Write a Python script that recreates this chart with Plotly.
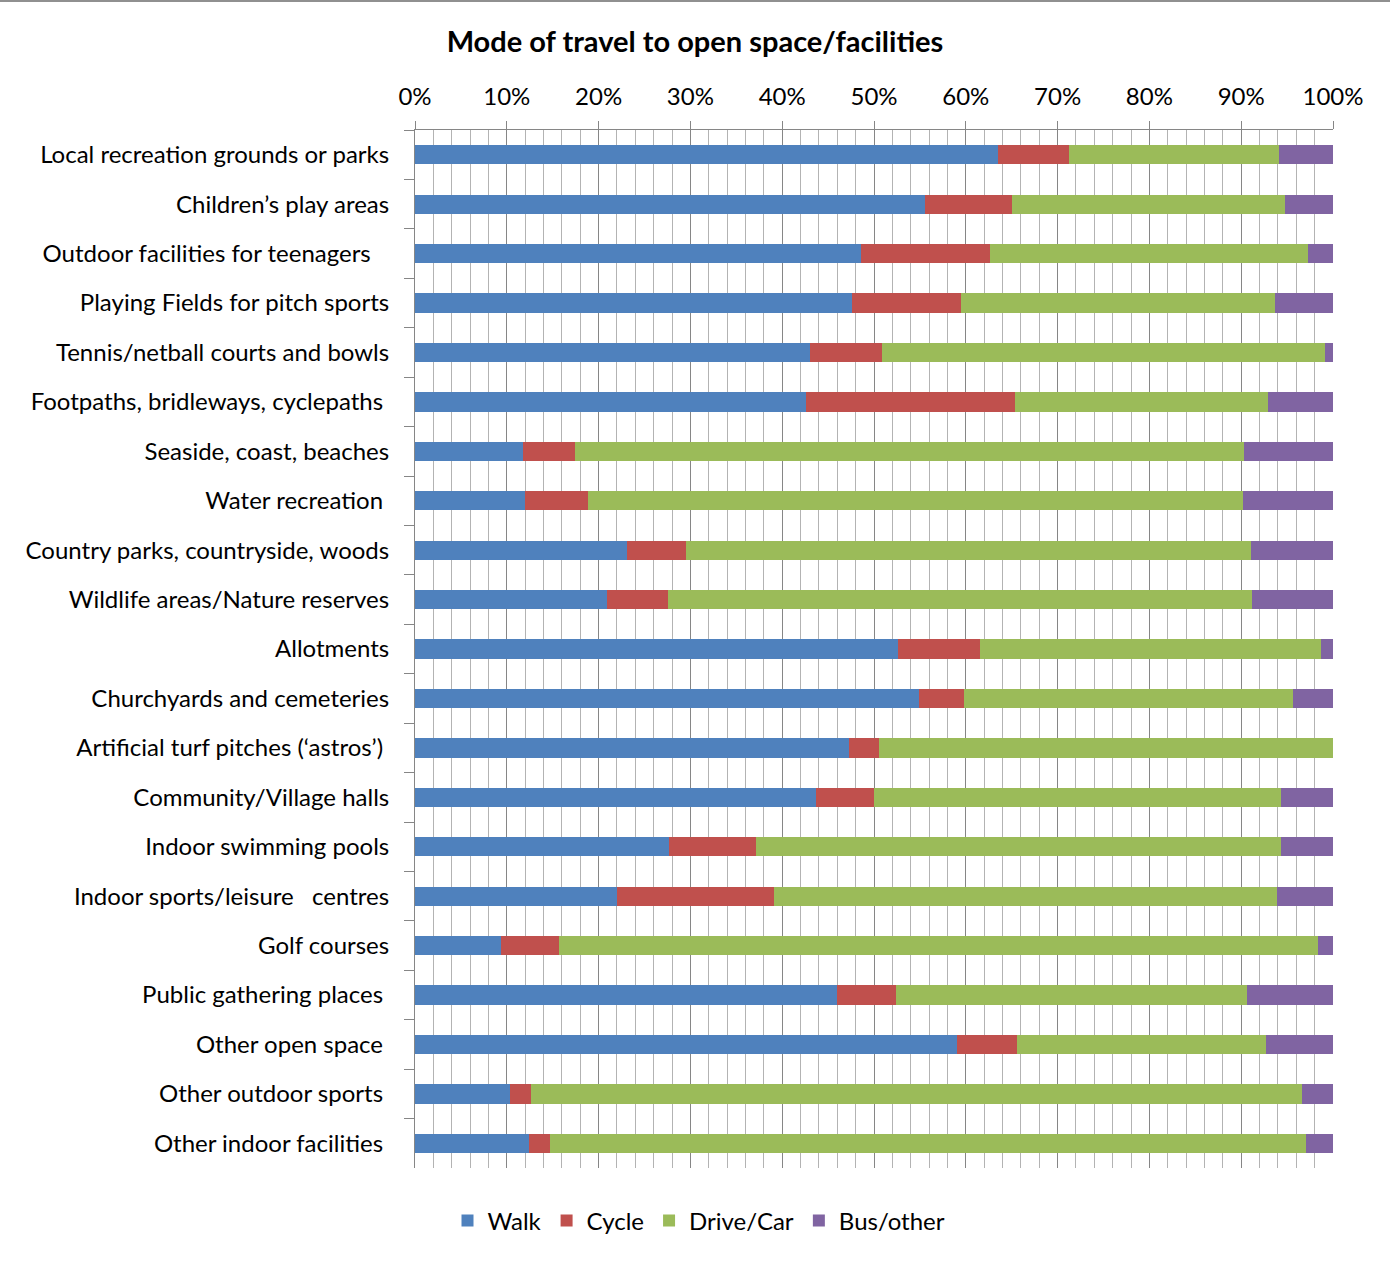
import plotly.graph_objects as go

# Categories (top to bottom) and share of each travel mode, in percent
categories = [
    "Local recreation grounds or parks",
    "Children\u2019s play areas",
    "Outdoor facilities for teenagers\u00a0\u00a0\u00a0",
    "Playing Fields for pitch sports",
    "Tennis/netball courts and bowls",
    "Footpaths, bridleways, cyclepaths\u00a0",
    "Seaside, coast, beaches",
    "Water recreation\u00a0",
    "Country parks, countryside, woods",
    "Wildlife areas/Nature reserves",
    "Allotments",
    "Churchyards and cemeteries",
    "Artificial turf pitches (\u2018astros\u2019)\u00a0",
    "Community/Village halls",
    "Indoor swimming pools",
    "Indoor sports/leisure\u00a0\u00a0\u00a0centres",
    "Golf courses",
    "Public gathering places\u00a0",
    "Other open space\u00a0",
    "Other outdoor sports\u00a0",
    "Other indoor facilities\u00a0",
]

walk = [63.5, 55.6, 48.6, 47.6, 43.0, 42.6, 11.8, 12.0, 23.1, 20.9, 52.6,
        54.9, 47.3, 43.7, 27.7, 22.0, 9.4, 46.0, 59.0, 10.3, 12.4]
cycle = [7.7, 9.4, 14.0, 11.9, 7.9, 22.8, 5.6, 6.8, 6.4, 6.7, 8.9,
         4.9, 3.2, 6.3, 9.4, 17.1, 6.3, 6.4, 6.6, 2.3, 2.3]
drive = [22.9, 29.8, 34.7, 34.2, 48.2, 27.5, 72.9, 71.4, 61.6, 63.6, 37.2,
         35.8, 49.5, 44.3, 57.2, 54.8, 82.7, 38.2, 27.1, 84.0, 82.4]
bus = [5.9, 5.2, 2.7, 6.3, 0.9, 7.1, 9.7, 9.8, 8.9, 8.8, 1.3,
       4.4, 0.0, 5.7, 5.7, 6.1, 1.6, 9.4, 7.3, 3.4, 2.9]

series = [
    ("Walk", walk, "#4F81BD"),
    ("Cycle", cycle, "#C0504D"),
    ("Drive/Car", drive, "#9BBB59"),
    ("Bus/other", bus, "#8064A2"),
]

FONT = "Lato, 'Open Sans', sans-serif"
TEXT_SIZE = 24
AXIS_GREY = "#868686"

fig = go.Figure()
for name, vals, color in series:
    fig.add_trace(go.Bar(
        y=categories,
        x=[v / 100 for v in vals],
        name=name,
        orientation="h",
        marker=dict(color=color, line=dict(width=0)),
    ))

W, H = 1390, 1261
L, R, T, B = 415, 57, 130, 93
plot_w = W - L - R
plot_h = H - T - B

fig.update_layout(
    width=W,
    height=H,
    margin=dict(l=L, r=R, t=T, b=B),
    barmode="stack",
    bargap=0.61,
    plot_bgcolor="white",
    paper_bgcolor="white",
    font=dict(family=FONT, size=TEXT_SIZE, color="black"),
    title=dict(
        text="<b>Mode of travel to open space/facilities</b>",
        x=0.5, xref="container", xanchor="center",
        y=1 - 42 / H, yref="container", yanchor="middle",
        font=dict(family=FONT, size=29, color="black"),
    ),
    legend=dict(
        orientation="h",
        x=(W / 2 + 4 - L) / plot_w, xanchor="center",
        y=-(1221 - (T + plot_h)) / plot_h, yanchor="middle",
        font=dict(family=FONT, size=TEXT_SIZE, color="black"),
        traceorder="normal",
        itemwidth=30,
    ),
    showlegend=True,
)

fig.update_xaxes(
    side="top",
    range=[0, 1],
    tick0=0,
    dtick=0.1,
    tickformat=".0%",
    ticks="outside",
    ticklen=8,
    tickcolor=AXIS_GREY,
    showline=True,
    linecolor=AXIS_GREY,
    linewidth=1,
    showgrid=True,
    gridcolor=AXIS_GREY,
    gridwidth=1,
    zeroline=False,
    minor=dict(dtick=0.02, showgrid=True, gridcolor="#b3b3b3", gridwidth=1, ticks=""),
    ticklabelstandoff=6,
    tickfont=dict(family=FONT, size=TEXT_SIZE, color="black"),
    fixedrange=True,
)

fig.update_yaxes(
    autorange="reversed",
    showgrid=False,
    showline=True,
    linecolor=AXIS_GREY,
    linewidth=1,
    ticks="outside",
    tickson="boundaries",
    ticklen=10,
    tickcolor=AXIS_GREY,
    ticklabelstandoff=20,
    tickfont=dict(family=FONT, size=TEXT_SIZE, color="black"),
    fixedrange=True,
)

# thin grey rule along the very top of the figure
fig.add_shape(
    type="line", xref="paper", yref="paper",
    x0=-L / plot_w, x1=(W - L) / plot_w,
    y0=1 + (T - 1) / plot_h, y1=1 + (T - 1) / plot_h,
    line=dict(color="#909090", width=2),
)

fig.write_html("out.html")
